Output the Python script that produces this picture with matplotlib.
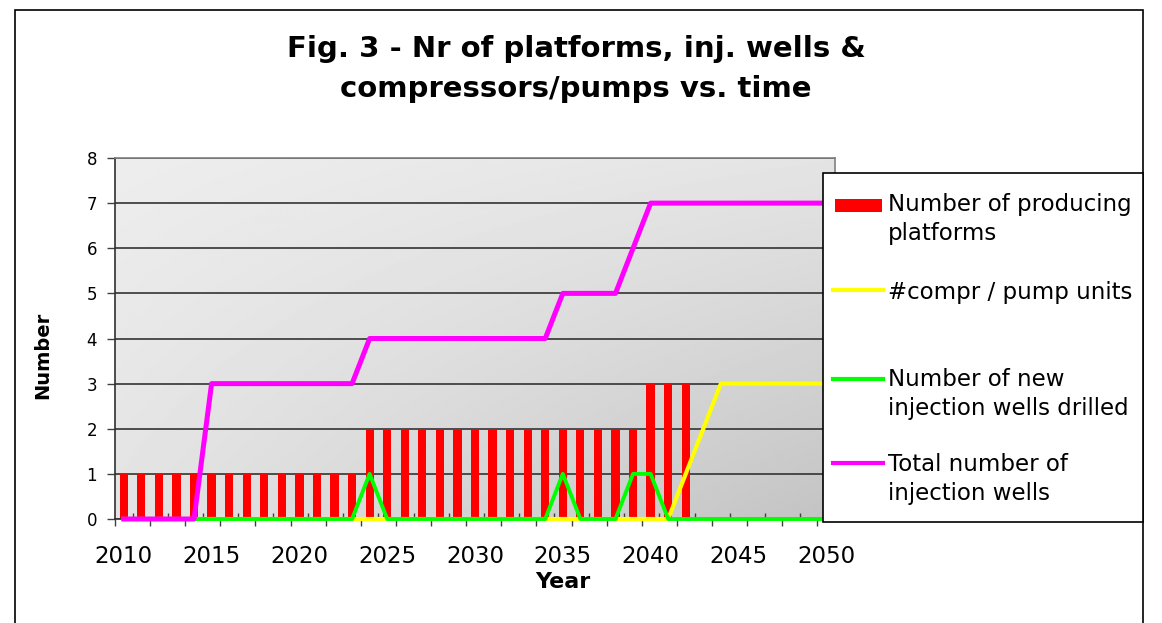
import matplotlib.pyplot as plt
import numpy as np
from matplotlib.patches import Rectangle
from matplotlib.lines import Line2D

W, H = 1162, 623

years = list(range(2010, 2051))
platforms = [1, 1, 1, 1, 1, 1, 1, 1, 1, 1, 1, 1, 1, 1,
             2, 2, 2, 2, 2, 2, 2, 2, 2, 2, 2, 2, 2, 2, 2, 2,
             3, 3, 3, 0, 0, 0, 0, 0, 0, 0, 0]
compr_units = [0, 0, 0, 0, 0, 0, 0, 0, 0, 0, 0, 0, 0, 0, 0, 0,
               0, 0, 0, 0, 0, 0, 0, 0, 0, 0, 0, 0, 0, 0, 0, 0,
               1, 2, 3, 3, 3, 3, 3, 3, 3]
new_wells = [0, 0, 0, 0, 0, 0, 0, 0, 0, 0, 0, 0, 0, 0,
             1, 0, 0, 0, 0, 0, 0, 0, 0, 0, 0,
             1, 0, 0, 0, 1, 1,
             0, 0, 0, 0, 0, 0, 0, 0, 0, 0]
total_wells = [0, 0, 0, 0, 0,
               3, 3, 3, 3, 3, 3, 3, 3, 3,
               4, 4, 4, 4, 4, 4, 4, 4, 4, 4, 4,
               5, 5, 5, 5, 6,
               7, 7, 7, 7, 7, 7, 7, 7, 7, 7, 7]
label_years = [2010, 2015, 2020, 2025, 2030, 2035, 2040, 2045, 2050]

labels = ["Number of producing\nplatforms", "#compr / pump units",
          "Number of new\ninjection wells drilled", "Total number of\ninjection wells"]
colors = ["#ff0000", "#ffff00", "#00ff00", "#ff00ff"]


def fx(x):
    return x / W


def fy(y):
    return 1 - y / H


fig = plt.figure(figsize=(W / 100, H / 100), dpi=100)
ax = fig.add_axes([fx(115), fy(519), 720 / W, 361 / H])

# grey shaded plot area, darker towards the lower right
u, v = np.meshgrid(np.linspace(0, 1, 300), np.linspace(0, 1, 300))
shade = 0.93 - 0.035 * u - 0.04 * v - 0.09 * u * v
ax.imshow(shade, cmap="gray", vmin=0, vmax=1, extent=(2009.5, 2050.5, 0, 8),
          aspect="auto", origin="upper", zorder=0, interpolation="bilinear")

ax.bar(years, platforms, width=0.47, color=colors[0], zorder=2)
ax.plot(years, compr_units, color=colors[1], lw=3.0, zorder=3, clip_on=False)
ax.plot(years, new_wells, color=colors[2], lw=2.8, zorder=4, clip_on=False)
ax.plot(years, total_wells, color=colors[3], lw=3.6, zorder=5, clip_on=False)

ax.set_xlim(2009.5, 2050.5)
ax.set_ylim(0, 8)
ax.set_yticks(range(9))
ax.yaxis.grid(True, color="#333333", lw=1.2)

# tick marks between categories, year labels on a second axis
ax.set_xticks(np.arange(2009.5, 2051, 2))
ax.set_xticks(np.arange(2009.5, 2051, 1), minor=True)
ax.tick_params(axis="x", which="major", direction="out", length=5, width=1,
               color="#404040", labelbottom=False)
ax.tick_params(axis="x", which="minor", direction="in", length=4, width=1,
               color="#404040", labelbottom=False)
ax.tick_params(axis="y", direction="out", length=6, width=1, color="#404040",
               pad=7, labelsize=12)

sec = ax.secondary_xaxis("bottom")
sec.set_xticks(label_years)
sec.tick_params(length=0, pad=19, labelsize=16.5)
sec.spines["bottom"].set_visible(False)

for side in ["top", "right"]:
    ax.spines[side].set_color("#808080")
    ax.spines[side].set_linewidth(1.2)
for side in ["left", "bottom"]:
    ax.spines[side].set_color("#303030")
    ax.spines[side].set_linewidth(1.2)

ax.set_ylabel("Number", fontsize=14, fontweight="bold", va="center")
ax.yaxis.set_label_coords((43 - 115) / 720, (519 - 355) / 361)
ax.set_xlabel("Year", fontsize=16, fontweight="bold", va="center")
ax.xaxis.set_label_coords((563 - 115) / 720, -(582 - 519) / 361)

fig.text(fx(576), fy(69), "Fig. 3 - Nr of platforms, inj. wells &\ncompressors/pumps vs. time",
         ha="center", va="center", fontsize=21, fontweight="bold", linespacing=1.52)

# outer chart frame
fig.add_artist(Rectangle((fx(15), -0.05), (1143 - 15) / W, fy(10) + 0.05,
                         transform=fig.transFigure, fill=False, ec="black", lw=1.2))

# legend box
fig.add_artist(Rectangle((fx(823), fy(522)), (1143 - 823) / W, (522 - 173) / H,
                         transform=fig.transFigure, fc="white", ec="black", lw=1.2, zorder=10))
handle_y = [205, 290, 379, 463]
text_y = [219, 292, 394, 479]
for i in range(4):
    if i == 0:
        fig.add_artist(Rectangle((fx(835), fy(212)), 47 / W, 13 / H, transform=fig.transFigure,
                                 fc=colors[0], ec="none", zorder=11))
    else:
        fig.add_artist(Line2D([fx(833), fx(883)], [fy(handle_y[i])] * 2, transform=fig.transFigure,
                              color=colors[i], lw=3.0, zorder=11))
    fig.text(fx(888), fy(text_y[i]), labels[i], ha="left", va="center", fontsize=16.5,
             linespacing=1.35, zorder=12)

fig.savefig("out.png", dpi=100)
